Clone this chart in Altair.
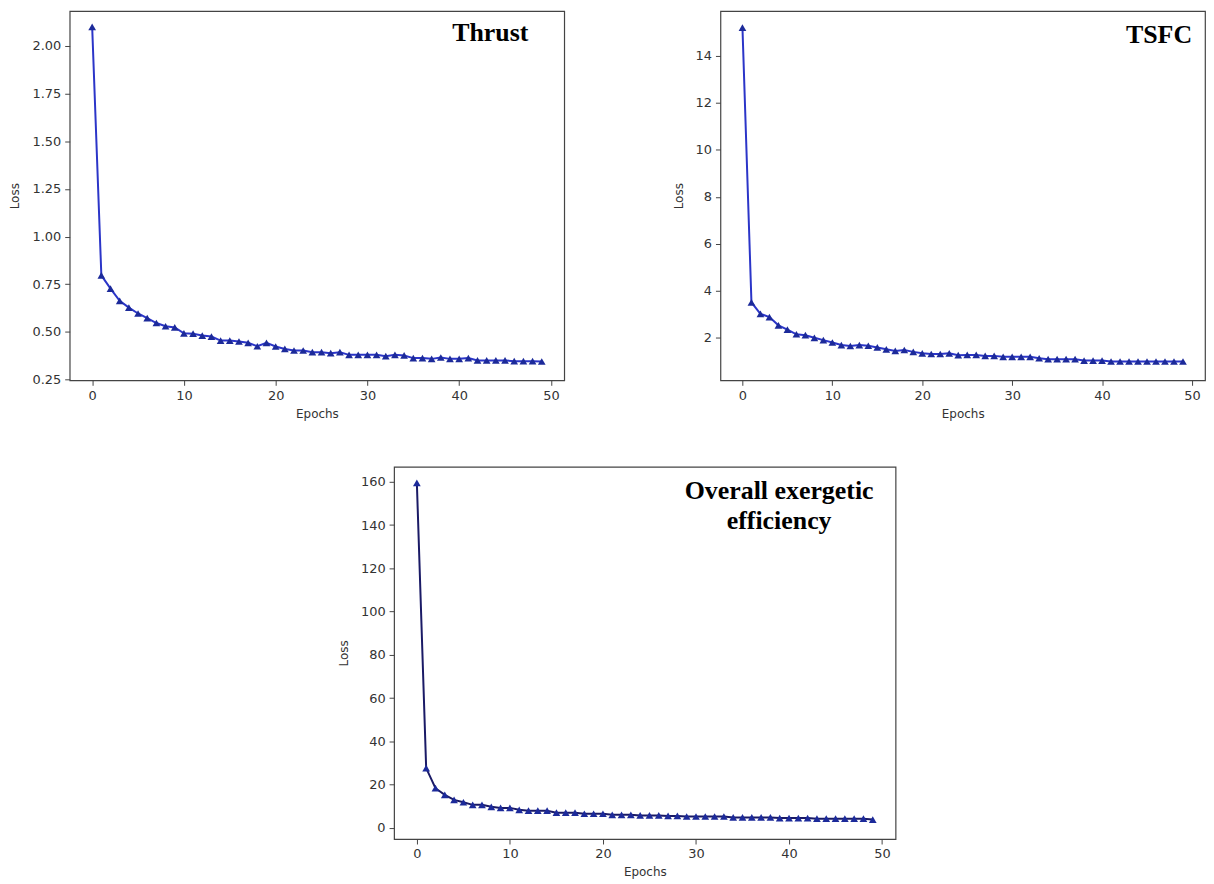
import altair as alt
import pandas as pd

epochs = list(range(50))

thrust_loss = [2.10, 0.797, 0.727, 0.663, 0.628, 0.597, 0.573, 0.547, 0.530, 0.524,
               0.493, 0.491, 0.481, 0.476, 0.455, 0.455, 0.450, 0.443, 0.425, 0.443,
               0.424, 0.411, 0.403, 0.403, 0.394, 0.394, 0.389, 0.394, 0.380, 0.380,
               0.380, 0.380, 0.373, 0.380, 0.377, 0.363, 0.363, 0.359, 0.366, 0.359,
               0.359, 0.363, 0.351, 0.351, 0.351, 0.351, 0.347, 0.347, 0.347, 0.345]

tsfc_loss = [15.2, 3.51, 3.02, 2.88, 2.53, 2.35, 2.15, 2.11, 2.00, 1.90,
             1.80, 1.69, 1.65, 1.69, 1.66, 1.59, 1.51, 1.44, 1.48, 1.40,
             1.34, 1.31, 1.31, 1.34, 1.26, 1.27, 1.27, 1.23, 1.23, 1.19,
             1.19, 1.19, 1.19, 1.13, 1.09, 1.09, 1.09, 1.09, 1.03, 1.03,
             1.03, 0.99, 0.99, 0.99, 0.99, 0.99, 0.99, 0.99, 0.99, 0.99]

overall_loss = [159.5, 27.6, 18.3, 15.2, 12.9, 11.8, 10.6, 10.6, 9.7, 9.2,
                9.2, 8.3, 7.9, 7.9, 7.9, 7.0, 7.0, 7.0, 6.5, 6.5,
                6.5, 6.0, 6.0, 6.0, 5.7, 5.7, 5.7, 5.5, 5.5, 5.2,
                5.2, 5.2, 5.2, 5.2, 4.8, 4.8, 4.8, 4.8, 4.8, 4.5,
                4.5, 4.5, 4.5, 4.2, 4.2, 4.2, 4.2, 4.2, 4.2, 3.8]

x_ticks = [0, 10, 20, 30, 40, 50]
thrust_ticks = [0.25, 0.50, 0.75, 1.00, 1.25, 1.50, 1.75, 2.00]
tsfc_ticks = [2, 4, 6, 8, 10, 12, 14]
overall_ticks = [0, 20, 40, 60, 80, 100, 120, 140, 160]

X_DOMAIN = [-2.45, 51.45]


def panel(values, yticks, ydomain, yfmt, width, height, line_color, label_lines, lx, ly):
    df = pd.DataFrame({"Epoch": epochs, "Loss": values})
    base = alt.Chart(df).encode(
        x=alt.X("Epoch:Q", scale=alt.Scale(domain=X_DOMAIN, nice=False, zero=False),
                axis=alt.Axis(values=x_ticks, title="Epochs", format="d", titlePadding=6)),
        y=alt.Y("Loss:Q", scale=alt.Scale(domain=ydomain, nice=False, zero=False),
                axis=alt.Axis(values=yticks, title="Loss", format=yfmt, titlePadding=10)),
    )
    line = base.mark_line(color=line_color, strokeWidth=2)
    pts = base.mark_point(shape="triangle-up", filled=True, color="#1c2a9a", size=60, opacity=1)
    txt = alt.Chart(pd.DataFrame({"a": [0]})).mark_text(
        text=label_lines, font="Liberation Serif", fontWeight="bold", fontSize=26,
        color="black", align="right" if len(label_lines) == 1 else "center",
        baseline="alphabetic", lineHeight=30,
    ).encode(x=alt.value(lx), y=alt.value(ly))
    return alt.layer(line, pts, txt).properties(width=width, height=height)


thrust = panel(thrust_loss, thrust_ticks, [0.2465, 2.182], ".2f", 497, 371,
               "#2b35c8", ["Thrust"], 461, 30)
tsfc = panel(tsfc_loss, tsfc_ticks, [0.19, 15.9], "d", 487, 371,
             "#2b35c8", ["TSFC"], 474, 32)
overall = panel(overall_loss, overall_ticks, [-5.2, 166.9], "d", 504, 374,
                "#1a1a66", ["Overall exergetic", "efficiency"], 387, 32)

spacer = alt.Chart(pd.DataFrame({"a": [0]})).mark_point(opacity=0).encode(
    x=alt.X("a:Q", axis=None), y=alt.Y("a:Q", axis=None)
).properties(width=267, height=10, view=alt.ViewBackground(stroke="transparent"))

top_row = alt.hconcat(thrust, tsfc, spacing=106)
bottom_row = alt.hconcat(spacer, overall, spacing=0)

chart = alt.vconcat(top_row, bottom_row, spacing=46).properties(
    padding=0, background="white"
).configure_view(
    stroke="#444", strokeWidth=1.2
).configure_axis(
    grid=False, domain=False, tickColor="#444", tickSize=5, tickWidth=1,
    labelFont="DejaVu Sans", labelFontSize=13, labelColor="#333", labelPadding=4,
    titleFont="DejaVu Sans", titleFontSize=12, titleFontWeight="normal", titleColor="#333",
)

chart.save("out.html", embed_options={"renderer": "svg", "actions": False})
